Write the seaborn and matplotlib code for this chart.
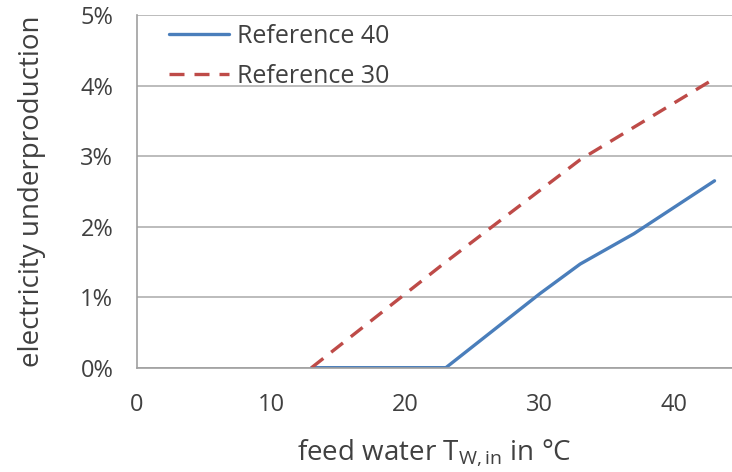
import pandas as pd
import seaborn as sns
import matplotlib.pyplot as plt
from matplotlib.ticker import PercentFormatter

# values
temp_ref40 = [13, 23, 30, 33, 37, 43]
under_ref40 = [0.0, 0.0, 1.05, 1.47, 1.9, 2.65]
temp_ref30 = [13, 23, 33, 43]
under_ref30 = [0.0, 1.5, 2.95, 4.1]

x_ticks = [0, 10, 20, 30, 40]
y_ticks = [0, 1, 2, 3, 4, 5]

df = pd.concat([
    pd.DataFrame({'T': temp_ref40, 'u': under_ref40, 'series': 'Reference 40'}),
    pd.DataFrame({'T': temp_ref30, 'u': under_ref30, 'series': 'Reference 30'}),
])

sns.set_style('white')
plt.rcParams['font.family'] = ['Open Sans', 'DejaVu Sans']
plt.rcParams['mathtext.fontset'] = 'custom'
plt.rcParams['mathtext.rm'] = 'Open Sans'
text_col = '#404040'

fig = plt.figure(figsize=(7.32, 4.72), dpi=100)
ax = fig.add_axes([0.187, 0.221, 0.813, 0.747])

sns.lineplot(data=df, x='T', y='u', hue='series', style='series',
             palette={'Reference 40': '#4a7ebb', 'Reference 30': '#be4b48'},
             dashes={'Reference 40': '', 'Reference 30': (4.5, 3)},
             linewidth=2.4, sort=False, ax=ax)

ax.set_xlim(0, 44.3)
ax.set_ylim(0, 5)
ax.set_xticks(x_ticks)
ax.set_yticks(y_ticks)
ax.yaxis.set_major_formatter(PercentFormatter(decimals=0))
ax.grid(axis='y', color='#b0b0b0', linewidth=1.2)
ax.set_axisbelow(True)
for s in ['top', 'right']:
    ax.spines[s].set_visible(False)
for s in ['left', 'bottom']:
    ax.spines[s].set_color('#a0a0a0')
    ax.spines[s].set_linewidth(1.2)
ax.tick_params(axis='both', direction='out', length=7, width=1, color='#a0a0a0',
               labelsize=17, labelcolor=text_col)
ax.tick_params(axis='x', pad=11)
ax.tick_params(axis='y', pad=10)

ax.set_xlabel(r'feed water T$_{\mathrm{W,in}}$ in °C', fontsize=20, color=text_col, labelpad=15)
ax.set_ylabel('electricity underproduction', fontsize=20, color=text_col, labelpad=25)

leg = ax.legend(loc='upper left', frameon=False, fontsize=18, handlelength=2.4,
                handletextpad=0.3, borderpad=0, borderaxespad=0,
                bbox_to_anchor=(0.054, 0.975), labelspacing=0.6)
for t in leg.get_texts():
    t.set_color(text_col)

fig.savefig('out.png', dpi=100)
